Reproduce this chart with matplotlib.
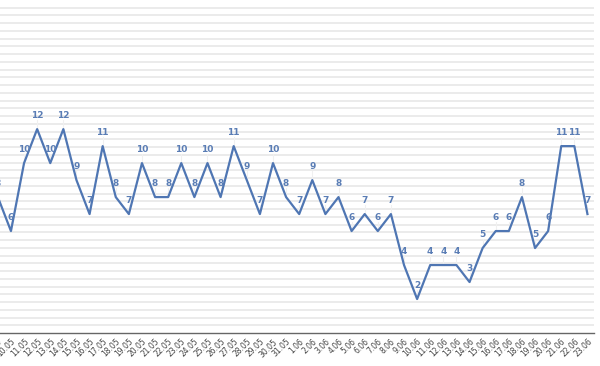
import numpy as np
import matplotlib
matplotlib.use("Agg")
import matplotlib.pyplot as plt

dates = [
    "9.05", "10.05", "11.05", "12.05", "13.05", "14.05", "15.05", "16.05",
    "17.05", "18.05", "19.05", "20.05", "21.05", "22.05", "23.05", "24.05",
    "25.05", "26.05", "27.05", "28.05", "29.05", "30.05", "31.05",
    "1.06", "2.06", "3.06", "4.06", "5.06", "6.06", "7.06", "8.06", "9.06",
    "10.06", "11.06", "12.06", "13.06", "14.06", "15.06", "16.06", "17.06",
    "18.06", "19.06", "20.06", "21.06", "22.06", "23.06",
]
counts = [
    8, 6, 10, 12, 10, 12, 9, 7, 11, 8, 7, 10, 8, 8, 10, 8, 10, 8, 11, 9, 7, 10, 8,
    7, 9, 7, 8, 6, 7, 6, 7, 4, 2, 4, 4, 4, 3, 5, 6, 6, 8, 5, 6, 11, 11, 7,
]

LINE = "#4f76b3"
LABEL = "#5a7db5"

fig = plt.figure(figsize=(6, 3.66), dpi=100)
# plot area is wider than the figure on the left (reference is cropped)
ax = fig.add_axes([-0.0145, 33 / 366, 1.0045, 333 / 366])

x = np.arange(len(counts))
ax.plot(x, counts, color=LINE, lw=1.6, zorder=3)

# faint horizontal grid
ymax = 19.6
for gy in np.arange(0.456, 19.3, 0.456):
    ax.axhline(gy, color="#e9e9e9", lw=1.3, zorder=1)

# data labels with faint leader lines
for xi, v in zip(x, counts):
    ax.plot([xi, xi], [v, v + 0.55], color="#f0f0f0", lw=0.8, zorder=2)
    ax.annotate(str(v), (xi, v), xytext=(0, 10), textcoords="offset points",
                ha="center", va="center", fontsize=6.5, fontweight="bold",
                color=LABEL, zorder=4)

ax.set_xlim(-0.5, len(counts) - 0.5)
ax.set_ylim(0, ymax)
ax.set_xticks(x)
ax.set_xticklabels(dates, rotation=45, ha="right", rotation_mode="anchor",
                   fontsize=5.5, color="#444444")
ax.tick_params(axis="x", length=0, pad=3)
ax.set_yticks([])
for side in ["top", "right", "left"]:
    ax.spines[side].set_visible(False)
ax.spines["bottom"].set_color("#666666")
ax.spines["bottom"].set_linewidth(1.0)

fig.savefig("out.png", dpi=100)
